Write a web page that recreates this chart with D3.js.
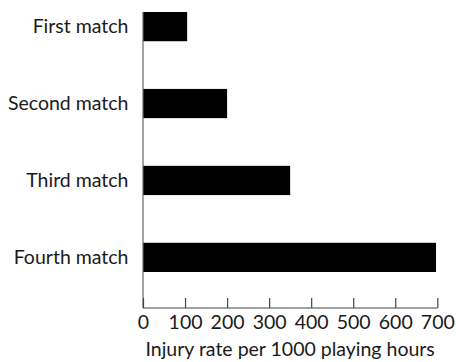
<!DOCTYPE html>
<html>
<head>
<meta charset="utf-8">
<script src="https://cdn.jsdelivr.net/npm/d3@7"></script>
<style>
  html, body { margin: 0; padding: 0; background: #fff; }
  svg { display: block; font-family: Lato, "Open Sans", sans-serif; }
</style>
</head>
<body>
<svg id="chart" width="456" height="362"></svg>
<script>
// Injury rate by match number
const categories = ["First match", "Second match", "Third match", "Fourth match"];
const injuryRates = [105, 200, 350, 697];
const xTicks = [0, 100, 200, 300, 400, 500, 600, 700];
const xTitle = "Injury rate per 1000 playing hours";

const svg = d3.select("#chart");
const fontSize = 19.5;

const x = d3.scaleLinear().domain([0, 700]).range([143, 437.3]);
const y = d3.scaleBand().domain(categories).range([12, 272]).paddingInner(0.62).paddingOuter(0);
const axisY = 308;

// bars
svg.append("g")
  .selectAll("rect")
  .data(categories)
  .join("rect")
  .attr("x", x(0))
  .attr("y", d => y(d))
  .attr("width", (d, i) => x(injuryRates[i]) - x(0))
  .attr("height", y.bandwidth())
  .attr("fill", "#000");

// vertical axis line
svg.append("line")
  .attr("x1", x(0)).attr("x2", x(0))
  .attr("y1", 12).attr("y2", axisY)
  .attr("stroke", "#666").attr("stroke-width", 1.2);

// category labels
svg.append("g")
  .selectAll("text")
  .data(categories)
  .join("text")
  .attr("x", 128.5)
  .attr("y", d => y(d) + y.bandwidth() / 2)
  .attr("dy", "0.35em")
  .attr("text-anchor", "end")
  .attr("font-size", fontSize)
  .attr("fill", "#1a1a1a")
  .text(d => d);

// bottom axis with upward ticks
const xAxis = d3.axisBottom(x).tickValues(xTicks).tickSize(0).tickPadding(0);
const gx = svg.append("g").attr("transform", `translate(0,${axisY})`).call(xAxis);
gx.select(".domain").remove();
gx.selectAll(".tick line").remove();
gx.append("line")
  .attr("x1", x(0)).attr("x2", x(700))
  .attr("y1", 0).attr("y2", 0)
  .attr("stroke", "#444").attr("stroke-width", 1.2);
gx.selectAll(".tick")
  .append("line")
  .attr("y1", 0).attr("y2", -10)
  .attr("stroke", "#444").attr("stroke-width", 1.2);
gx.selectAll(".tick text")
  .attr("y", 21)
  .attr("dy", 0)
  .attr("font-size", fontSize)
  .attr("font-family", "Lato, 'Open Sans', sans-serif")
  .attr("fill", "#1a1a1a");

// axis title
svg.append("text")
  .attr("x", (x(0) + x(700)) / 2)
  .attr("y", 355.5)
  .attr("text-anchor", "middle")
  .attr("font-size", fontSize)
  .attr("fill", "#1a1a1a")
  .text(xTitle);
</script>
</body>
</html>
